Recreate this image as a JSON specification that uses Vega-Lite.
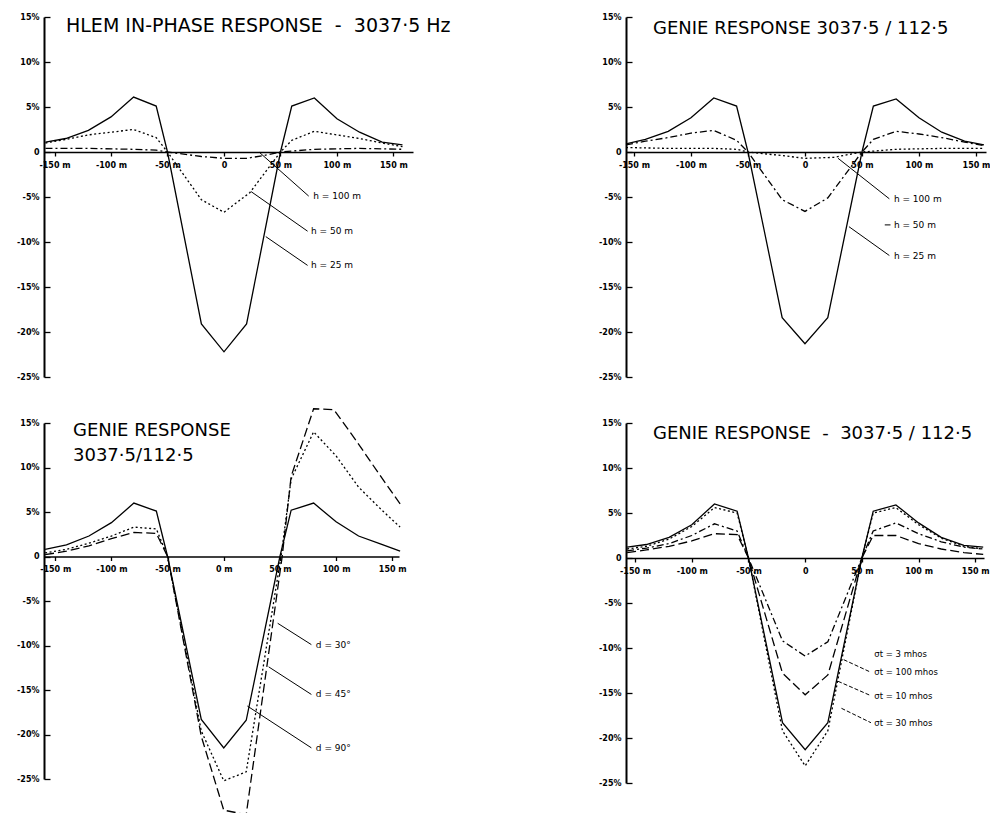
{
  "$schema": "https://vega.github.io/schema/vega-lite/v6.json",
  "background": "white",
  "padding": {"left": 16, "top": 13, "right": 0, "bottom": 0},
  "config": {
    "view": {"stroke": null},
    "font": "DejaVu Sans",
    "axis": {"grid": false, "domainColor": "black", "tickColor": "black", "labelColor": "black", "labelFont": "DejaVu Sans", "labelFontWeight": "bold", "labelFontSize": 8, "labelFlush": false, "labelOverlap": false, "tickWidth": 1.3},
    "line": {"color": "black", "strokeWidth": 1.3},
    "rule": {"color": "black", "strokeWidth": 1},
    "text": {"color": "black", "font": "DejaVu Sans", "fontSize": 9, "align": "left", "baseline": "middle"},
    "title": {"font": "DejaVu Sans", "fontSize": 18, "fontWeight": "normal", "color": "black", "anchor": "start", "frame": "group"}
  },
  "datasets": {
    "tl": [
      {"series": "h = 25 m", "x": -158, "y": 1.1}, {"series": "h = 25 m", "x": -140, "y": 1.5}, {"series": "h = 25 m", "x": -120, "y": 2.4}, {"series": "h = 25 m", "x": -100, "y": 3.9}, {"series": "h = 25 m", "x": -80, "y": 6.1}, {"series": "h = 25 m", "x": -60, "y": 5.1}, {"series": "h = 25 m", "x": -50, "y": 0}, {"series": "h = 25 m", "x": -20, "y": -19.1}, {"series": "h = 25 m", "x": 0, "y": -22.2}, {"series": "h = 25 m", "x": 20, "y": -19.1}, {"series": "h = 25 m", "x": 50, "y": 0}, {"series": "h = 25 m", "x": 60, "y": 5.1}, {"series": "h = 25 m", "x": 80, "y": 6.0}, {"series": "h = 25 m", "x": 100, "y": 3.7}, {"series": "h = 25 m", "x": 120, "y": 2.2}, {"series": "h = 25 m", "x": 140, "y": 1.1}, {"series": "h = 25 m", "x": 158, "y": 0.8},
      {"series": "h = 50 m", "x": -158, "y": 1.0}, {"series": "h = 50 m", "x": -140, "y": 1.4}, {"series": "h = 50 m", "x": -120, "y": 1.9}, {"series": "h = 50 m", "x": -100, "y": 2.2}, {"series": "h = 50 m", "x": -80, "y": 2.5}, {"series": "h = 50 m", "x": -60, "y": 1.6}, {"series": "h = 50 m", "x": -50, "y": 0}, {"series": "h = 50 m", "x": -20, "y": -5.3}, {"series": "h = 50 m", "x": 0, "y": -6.7}, {"series": "h = 50 m", "x": 23, "y": -4.5}, {"series": "h = 50 m", "x": 50, "y": 0}, {"series": "h = 50 m", "x": 60, "y": 1.3}, {"series": "h = 50 m", "x": 80, "y": 2.3}, {"series": "h = 50 m", "x": 100, "y": 1.9}, {"series": "h = 50 m", "x": 120, "y": 1.5}, {"series": "h = 50 m", "x": 140, "y": 1.0}, {"series": "h = 50 m", "x": 158, "y": 0.6},
      {"series": "h = 100 m", "x": -158, "y": 0.4}, {"series": "h = 100 m", "x": -120, "y": 0.4}, {"series": "h = 100 m", "x": -80, "y": 0.3}, {"series": "h = 100 m", "x": -60, "y": 0.2}, {"series": "h = 100 m", "x": -50, "y": 0}, {"series": "h = 100 m", "x": -20, "y": -0.5}, {"series": "h = 100 m", "x": 0, "y": -0.7}, {"series": "h = 100 m", "x": 20, "y": -0.7}, {"series": "h = 100 m", "x": 35, "y": -0.4}, {"series": "h = 100 m", "x": 50, "y": 0}, {"series": "h = 100 m", "x": 80, "y": 0.3}, {"series": "h = 100 m", "x": 120, "y": 0.4}, {"series": "h = 100 m", "x": 158, "y": 0.3}
    ],
    "tr": [
      {"series": "h = 25 m", "x": -157, "y": 0.9}, {"series": "h = 25 m", "x": -140, "y": 1.4}, {"series": "h = 25 m", "x": -120, "y": 2.3}, {"series": "h = 25 m", "x": -100, "y": 3.8}, {"series": "h = 25 m", "x": -80, "y": 6.0}, {"series": "h = 25 m", "x": -60, "y": 5.1}, {"series": "h = 25 m", "x": -50, "y": 0}, {"series": "h = 25 m", "x": -20, "y": -18.4}, {"series": "h = 25 m", "x": 0, "y": -21.3}, {"series": "h = 25 m", "x": 20, "y": -18.4}, {"series": "h = 25 m", "x": 50, "y": 0}, {"series": "h = 25 m", "x": 60, "y": 5.1}, {"series": "h = 25 m", "x": 80, "y": 5.9}, {"series": "h = 25 m", "x": 100, "y": 3.8}, {"series": "h = 25 m", "x": 120, "y": 2.2}, {"series": "h = 25 m", "x": 140, "y": 1.2}, {"series": "h = 25 m", "x": 157, "y": 0.8},
      {"series": "h = 50 m", "x": -157, "y": 0.8}, {"series": "h = 50 m", "x": -140, "y": 1.2}, {"series": "h = 50 m", "x": -120, "y": 1.6}, {"series": "h = 50 m", "x": -100, "y": 2.1}, {"series": "h = 50 m", "x": -80, "y": 2.4}, {"series": "h = 50 m", "x": -60, "y": 1.3}, {"series": "h = 50 m", "x": -50, "y": 0}, {"series": "h = 50 m", "x": -20, "y": -5.3}, {"series": "h = 50 m", "x": 0, "y": -6.6}, {"series": "h = 50 m", "x": 20, "y": -5.1}, {"series": "h = 50 m", "x": 50, "y": 0}, {"series": "h = 50 m", "x": 60, "y": 1.4}, {"series": "h = 50 m", "x": 80, "y": 2.3}, {"series": "h = 50 m", "x": 100, "y": 2.0}, {"series": "h = 50 m", "x": 120, "y": 1.6}, {"series": "h = 50 m", "x": 140, "y": 1.1}, {"series": "h = 50 m", "x": 157, "y": 0.7},
      {"series": "h = 100 m", "x": -157, "y": 0.5}, {"series": "h = 100 m", "x": -120, "y": 0.4}, {"series": "h = 100 m", "x": -80, "y": 0.4}, {"series": "h = 100 m", "x": -60, "y": 0.3}, {"series": "h = 100 m", "x": -50, "y": 0}, {"series": "h = 100 m", "x": -20, "y": -0.4}, {"series": "h = 100 m", "x": 0, "y": -0.7}, {"series": "h = 100 m", "x": 25, "y": -0.6}, {"series": "h = 100 m", "x": 50, "y": 0}, {"series": "h = 100 m", "x": 80, "y": 0.3}, {"series": "h = 100 m", "x": 120, "y": 0.4}, {"series": "h = 100 m", "x": 157, "y": 0.4}
    ],
    "bl": [
      {"series": "d = 90°", "x": -159, "y": 0.8}, {"series": "d = 90°", "x": -140, "y": 1.3}, {"series": "d = 90°", "x": -120, "y": 2.3}, {"series": "d = 90°", "x": -100, "y": 3.8}, {"series": "d = 90°", "x": -80, "y": 6.0}, {"series": "d = 90°", "x": -60, "y": 5.1}, {"series": "d = 90°", "x": -50, "y": 0}, {"series": "d = 90°", "x": -20, "y": -18.3}, {"series": "d = 90°", "x": 0, "y": -21.5}, {"series": "d = 90°", "x": 20, "y": -18.4}, {"series": "d = 90°", "x": 50, "y": 0}, {"series": "d = 90°", "x": 60, "y": 5.2}, {"series": "d = 90°", "x": 80, "y": 6.0}, {"series": "d = 90°", "x": 100, "y": 3.9}, {"series": "d = 90°", "x": 120, "y": 2.3}, {"series": "d = 90°", "x": 140, "y": 1.4}, {"series": "d = 90°", "x": 157, "y": 0.6},
      {"series": "d = 45°", "x": -159, "y": 0.4}, {"series": "d = 45°", "x": -140, "y": 0.8}, {"series": "d = 45°", "x": -120, "y": 1.5}, {"series": "d = 45°", "x": -100, "y": 2.3}, {"series": "d = 45°", "x": -80, "y": 3.3}, {"series": "d = 45°", "x": -60, "y": 3.1}, {"series": "d = 45°", "x": -50, "y": 0}, {"series": "d = 45°", "x": -20, "y": -19.6}, {"series": "d = 45°", "x": 0, "y": -25.2}, {"series": "d = 45°", "x": 20, "y": -24.2}, {"series": "d = 45°", "x": 51, "y": 0}, {"series": "d = 45°", "x": 60, "y": 8.7}, {"series": "d = 45°", "x": 80, "y": 14.0}, {"series": "d = 45°", "x": 100, "y": 11.3}, {"series": "d = 45°", "x": 120, "y": 7.8}, {"series": "d = 45°", "x": 140, "y": 5.3}, {"series": "d = 45°", "x": 157, "y": 3.3},
      {"series": "d = 30°", "x": -159, "y": 0.2}, {"series": "d = 30°", "x": -140, "y": 0.6}, {"series": "d = 30°", "x": -120, "y": 1.2}, {"series": "d = 30°", "x": -100, "y": 2.0}, {"series": "d = 30°", "x": -80, "y": 2.7}, {"series": "d = 30°", "x": -60, "y": 2.6}, {"series": "d = 30°", "x": -50, "y": 0}, {"series": "d = 30°", "x": -20, "y": -20.2}, {"series": "d = 30°", "x": 0, "y": -28.5}, {"series": "d = 30°", "x": 20, "y": -29.0}, {"series": "d = 30°", "x": 52, "y": 0}, {"series": "d = 30°", "x": 60, "y": 9.0}, {"series": "d = 30°", "x": 80, "y": 16.6}, {"series": "d = 30°", "x": 98, "y": 16.5}, {"series": "d = 30°", "x": 118, "y": 13.0}, {"series": "d = 30°", "x": 137, "y": 9.5}, {"series": "d = 30°", "x": 157, "y": 5.9}
    ],
    "br": [
      {"series": "σt = 100 mhos", "x": -157, "y": 1.2}, {"series": "σt = 100 mhos", "x": -140, "y": 1.5}, {"series": "σt = 100 mhos", "x": -120, "y": 2.3}, {"series": "σt = 100 mhos", "x": -100, "y": 3.7}, {"series": "σt = 100 mhos", "x": -80, "y": 6.0}, {"series": "σt = 100 mhos", "x": -60, "y": 5.2}, {"series": "σt = 100 mhos", "x": -50, "y": 0}, {"series": "σt = 100 mhos", "x": -20, "y": -18.3}, {"series": "σt = 100 mhos", "x": 0, "y": -21.3}, {"series": "σt = 100 mhos", "x": 20, "y": -18.3}, {"series": "σt = 100 mhos", "x": 50, "y": 0}, {"series": "σt = 100 mhos", "x": 60, "y": 5.2}, {"series": "σt = 100 mhos", "x": 80, "y": 5.9}, {"series": "σt = 100 mhos", "x": 100, "y": 3.9}, {"series": "σt = 100 mhos", "x": 120, "y": 2.3}, {"series": "σt = 100 mhos", "x": 140, "y": 1.4}, {"series": "σt = 100 mhos", "x": 157, "y": 1.2},
      {"series": "σt = 30 mhos", "x": -157, "y": 1.0}, {"series": "σt = 30 mhos", "x": -140, "y": 1.3}, {"series": "σt = 30 mhos", "x": -120, "y": 2.1}, {"series": "σt = 30 mhos", "x": -100, "y": 3.5}, {"series": "σt = 30 mhos", "x": -80, "y": 5.6}, {"series": "σt = 30 mhos", "x": -60, "y": 5.0}, {"series": "σt = 30 mhos", "x": -50, "y": 0}, {"series": "σt = 30 mhos", "x": -20, "y": -19.2}, {"series": "σt = 30 mhos", "x": 0, "y": -23.1}, {"series": "σt = 30 mhos", "x": 20, "y": -19.2}, {"series": "σt = 30 mhos", "x": 50, "y": 0}, {"series": "σt = 30 mhos", "x": 60, "y": 5.0}, {"series": "σt = 30 mhos", "x": 80, "y": 5.6}, {"series": "σt = 30 mhos", "x": 100, "y": 3.7}, {"series": "σt = 30 mhos", "x": 120, "y": 2.2}, {"series": "σt = 30 mhos", "x": 140, "y": 1.3}, {"series": "σt = 30 mhos", "x": 157, "y": 1.0},
      {"series": "σt = 3 mhos", "x": -157, "y": 0.8}, {"series": "σt = 3 mhos", "x": -140, "y": 1.1}, {"series": "σt = 3 mhos", "x": -120, "y": 1.6}, {"series": "σt = 3 mhos", "x": -100, "y": 2.5}, {"series": "σt = 3 mhos", "x": -80, "y": 3.8}, {"series": "σt = 3 mhos", "x": -60, "y": 3.0}, {"series": "σt = 3 mhos", "x": -50, "y": 0}, {"series": "σt = 3 mhos", "x": -20, "y": -9.2}, {"series": "σt = 3 mhos", "x": 0, "y": -10.9}, {"series": "σt = 3 mhos", "x": 20, "y": -9.3}, {"series": "σt = 3 mhos", "x": 50, "y": 0}, {"series": "σt = 3 mhos", "x": 60, "y": 3.0}, {"series": "σt = 3 mhos", "x": 80, "y": 3.9}, {"series": "σt = 3 mhos", "x": 100, "y": 2.7}, {"series": "σt = 3 mhos", "x": 120, "y": 1.8}, {"series": "σt = 3 mhos", "x": 140, "y": 1.2}, {"series": "σt = 3 mhos", "x": 157, "y": 1.0},
      {"series": "σt = 10 mhos", "x": -157, "y": 0.6}, {"series": "σt = 10 mhos", "x": -140, "y": 0.9}, {"series": "σt = 10 mhos", "x": -120, "y": 1.3}, {"series": "σt = 10 mhos", "x": -100, "y": 1.9}, {"series": "σt = 10 mhos", "x": -80, "y": 2.7}, {"series": "σt = 10 mhos", "x": -60, "y": 2.6}, {"series": "σt = 10 mhos", "x": -50, "y": 0}, {"series": "σt = 10 mhos", "x": -20, "y": -12.8}, {"series": "σt = 10 mhos", "x": 0, "y": -15.2}, {"series": "σt = 10 mhos", "x": 20, "y": -13.0}, {"series": "σt = 10 mhos", "x": 50, "y": 0}, {"series": "σt = 10 mhos", "x": 60, "y": 2.5}, {"series": "σt = 10 mhos", "x": 80, "y": 2.5}, {"series": "σt = 10 mhos", "x": 100, "y": 1.6}, {"series": "σt = 10 mhos", "x": 120, "y": 1.0}, {"series": "σt = 10 mhos", "x": 140, "y": 0.6}, {"series": "σt = 10 mhos", "x": 157, "y": 0.4}
    ],
    "tl_labels": [{"label": "h = 100 m", "x": 79, "y": -4.9}, {"label": "h = 50 m", "x": 77, "y": -8.8}, {"label": "h = 25 m", "x": 77, "y": -12.6}],
    "tl_leaders": [{"x": 31, "y": 0, "x2": 75, "y2": -4.9}, {"x": 24, "y": -4.4, "x2": 74, "y2": -8.8}, {"x": 37, "y": -9.4, "x2": 74, "y2": -12.6}],
    "tr_labels": [{"label": "h = 100 m", "x": 78, "y": -5.2}, {"label": "h = 50 m", "x": 78, "y": -8.1}, {"label": "h = 25 m", "x": 78, "y": -11.5}],
    "tr_leaders": [{"x": 29, "y": -0.7, "x2": 74, "y2": -5.2}, {"x": 70, "y": -8.1, "x2": 75, "y2": -8.1}, {"x": 38.6, "y": -8.3, "x2": 74, "y2": -11.5}],
    "bl_labels": [{"label": "d = 30°", "x": 82, "y": -9.9}, {"label": "d = 45°", "x": 82, "y": -15.5}, {"label": "d = 90°", "x": 82, "y": -21.5}],
    "bl_leaders": [{"x": 48, "y": -7.5, "x2": 78, "y2": -9.9}, {"x": 40, "y": -12.4, "x2": 78, "y2": -15.5}, {"x": 21, "y": -16.8, "x2": 78, "y2": -21.5}],
    "br_labels": [{"label": "σt = 3 mhos", "x": 61, "y": -10.7}, {"label": "σt = 100 mhos", "x": 61, "y": -12.7}, {"label": "σt = 10 mhos", "x": 61, "y": -15.3}, {"label": "σt = 30 mhos", "x": 61, "y": -18.3}],
    "br_leaders": [{"x": 34, "y": -11.3, "x2": 58, "y2": -12.7}, {"x": 29, "y": -13.7, "x2": 58, "y2": -15.3}, {"x": 32, "y": -16.7, "x2": 58, "y2": -18.3}]
  },
  "columns": 2,
  "spacing": {"row": 46, "column": 213},
  "bounds": "flush",
  "resolve": {"scale": {"x": "independent", "y": "independent"}},
  "concat": [
    {
      "width": 369, "height": 360,
      "title": {"text": "HLEM IN-PHASE RESPONSE\u00a0\u00a0-\u00a0\u00a03037·5 Hz", "dx": 22, "offset": -23, "baseline": "top", "fontSize": 19},
      "encoding": {
        "x": {"field": "x", "type": "quantitative", "scale": {"domain": [-159.3, 167.3], "nice": false, "zero": false},
              "axis": {"orient": "bottom", "offset": -225, "values": [-150, -100, -50, 0, 50, 100, 150], "labelExpr": "datum.value == 0 ? '0' : datum.value + ' m'", "title": null, "tickSize": 4, "labelPadding": 5, "domainWidth": 1.5}},
        "y": {"field": "y", "type": "quantitative", "scale": {"domain": [-25, 15], "nice": false, "zero": false},
              "axis": {"orient": "right", "offset": -369, "values": [-25, -20, -15, -10, -5, 0, 5, 10, 15], "labelExpr": "datum.value == 0 ? '0' : datum.value + '%'", "title": null, "tickSize": 6, "labelPadding": -11, "labelAlign": "right", "domainWidth": 2}}
      },
      "layer": [
        {"data": {"name": "tl"}, "transform": [{"filter": "datum.series == 'h = 25 m'"}], "mark": {"type": "line"}},
        {"data": {"name": "tl"}, "transform": [{"filter": "datum.series == 'h = 50 m'"}], "mark": {"type": "line", "strokeDash": [2, 2.5]}},
        {"data": {"name": "tl"}, "transform": [{"filter": "datum.series == 'h = 100 m'"}], "mark": {"type": "line", "strokeDash": [7, 3, 2, 3]}},
        {"data": {"name": "tl_leaders"}, "mark": {"type": "rule"}, "encoding": {"x2": {"field": "x2"}, "y2": {"field": "y2"}}},
        {"data": {"name": "tl_labels"}, "mark": {"type": "text"}, "encoding": {"text": {"field": "label"}}}
      ]
    },
    {
      "width": 360, "height": 360,
      "title": {"text": "GENIE RESPONSE  3037·5 / 112·5", "dx": 27, "offset": -25, "baseline": "top"},
      "encoding": {
        "x": {"field": "x", "type": "quantitative", "scale": {"domain": [-157, 158.8], "nice": false, "zero": false},
              "axis": {"orient": "bottom", "offset": -225, "values": [-150, -100, -50, 0, 50, 100, 150], "labelExpr": "datum.value == 0 ? '0' : datum.value + ' m'", "title": null, "tickSize": 4, "labelPadding": 5, "domainWidth": 1.5}},
        "y": {"field": "y", "type": "quantitative", "scale": {"domain": [-25, 15], "nice": false, "zero": false},
              "axis": {"orient": "right", "offset": -360, "values": [-25, -20, -15, -10, -5, 0, 5, 10, 15], "labelExpr": "datum.value == 0 ? '0' : datum.value + '%'", "title": null, "tickSize": 6, "labelPadding": -11, "labelAlign": "right", "domainWidth": 2}}
      },
      "layer": [
        {"data": {"name": "tr"}, "transform": [{"filter": "datum.series == 'h = 25 m'"}], "mark": {"type": "line"}},
        {"data": {"name": "tr"}, "transform": [{"filter": "datum.series == 'h = 50 m'"}], "mark": {"type": "line", "strokeDash": [7, 3, 2, 3]}},
        {"data": {"name": "tr"}, "transform": [{"filter": "datum.series == 'h = 100 m'"}], "mark": {"type": "line", "strokeDash": [2, 2.5]}},
        {"data": {"name": "tr_leaders"}, "mark": {"type": "rule"}, "encoding": {"x2": {"field": "x2"}, "y2": {"field": "y2"}}},
        {"data": {"name": "tr_labels"}, "mark": {"type": "text"}, "encoding": {"text": {"field": "label"}}}
      ]
    },
    {
      "width": 355, "height": 356,
      "title": {"text": ["GENIE RESPONSE", "3037·5/112·5"], "dx": 29, "offset": -59, "lineHeight": 25, "baseline": "top"},
      "encoding": {
        "x": {"field": "x", "type": "quantitative", "scale": {"domain": [-160, 156], "nice": false, "zero": false},
              "axis": {"orient": "bottom", "offset": -222.5, "values": [-150, -100, -50, 0, 50, 100, 150], "labelExpr": "datum.value + ' m'", "title": null, "tickSize": 4, "labelPadding": 5, "domainWidth": 1.5}},
        "y": {"field": "y", "type": "quantitative", "scale": {"domain": [-25, 15], "nice": false, "zero": false},
              "axis": {"orient": "right", "offset": -355, "values": [-25, -20, -15, -10, -5, 0, 5, 10, 15], "labelExpr": "datum.value == 0 ? '0' : datum.value + '%'", "title": null, "tickSize": 6, "labelPadding": -11, "labelAlign": "right", "domainWidth": 2}}
      },
      "layer": [
        {"data": {"name": "bl"}, "transform": [{"filter": "datum.series == 'd = 90°'"}], "mark": {"type": "line"}},
        {"data": {"name": "bl"}, "transform": [{"filter": "datum.series == 'd = 45°'"}], "mark": {"type": "line", "strokeDash": [2, 2.5]}},
        {"data": {"name": "bl"}, "transform": [{"filter": "datum.series == 'd = 30°'"}], "mark": {"type": "line", "strokeDash": [9, 4]}},
        {"data": {"name": "bl_leaders"}, "mark": {"type": "rule"}, "encoding": {"x2": {"field": "x2"}, "y2": {"field": "y2"}}},
        {"data": {"name": "bl_labels"}, "mark": {"type": "text"}, "encoding": {"text": {"field": "label"}}}
      ]
    },
    {
      "width": 358, "height": 360,
      "title": {"text": "GENIE RESPONSE\u00a0\u00a0-\u00a0\u00a03037·5 / 112·5", "dx": 27, "offset": -24, "baseline": "top"},
      "encoding": {
        "x": {"field": "x", "type": "quantitative", "scale": {"domain": [-158, 157.7], "nice": false, "zero": false},
              "axis": {"orient": "bottom", "offset": -225, "values": [-150, -100, -50, 0, 50, 100, 150], "labelExpr": "datum.value == 0 ? '0' : datum.value + ' m'", "title": null, "tickSize": 4, "labelPadding": 5, "domainWidth": 1.5}},
        "y": {"field": "y", "type": "quantitative", "scale": {"domain": [-25, 15], "nice": false, "zero": false},
              "axis": {"orient": "right", "offset": -358, "values": [-25, -20, -15, -10, -5, 0, 5, 10, 15], "labelExpr": "datum.value == 0 ? '0' : datum.value + '%'", "title": null, "tickSize": 6, "labelPadding": -11, "labelAlign": "right", "domainWidth": 2}}
      },
      "layer": [
        {"data": {"name": "br"}, "transform": [{"filter": "datum.series == 'σt = 100 mhos'"}], "mark": {"type": "line"}},
        {"data": {"name": "br"}, "transform": [{"filter": "datum.series == 'σt = 30 mhos'"}], "mark": {"type": "line", "strokeDash": [2, 2.5]}},
        {"data": {"name": "br"}, "transform": [{"filter": "datum.series == 'σt = 3 mhos'"}], "mark": {"type": "line", "strokeDash": [7, 3, 2, 3]}},
        {"data": {"name": "br"}, "transform": [{"filter": "datum.series == 'σt = 10 mhos'"}], "mark": {"type": "line", "strokeDash": [9, 4]}},
        {"data": {"name": "br_leaders"}, "mark": {"type": "rule", "strokeDash": [4, 2]}, "encoding": {"x2": {"field": "x2"}, "y2": {"field": "y2"}}},
        {"data": {"name": "br_labels"}, "mark": {"type": "text", "fontSize": 8.5}, "encoding": {"text": {"field": "label"}}}
      ]
    }
  ]
}
